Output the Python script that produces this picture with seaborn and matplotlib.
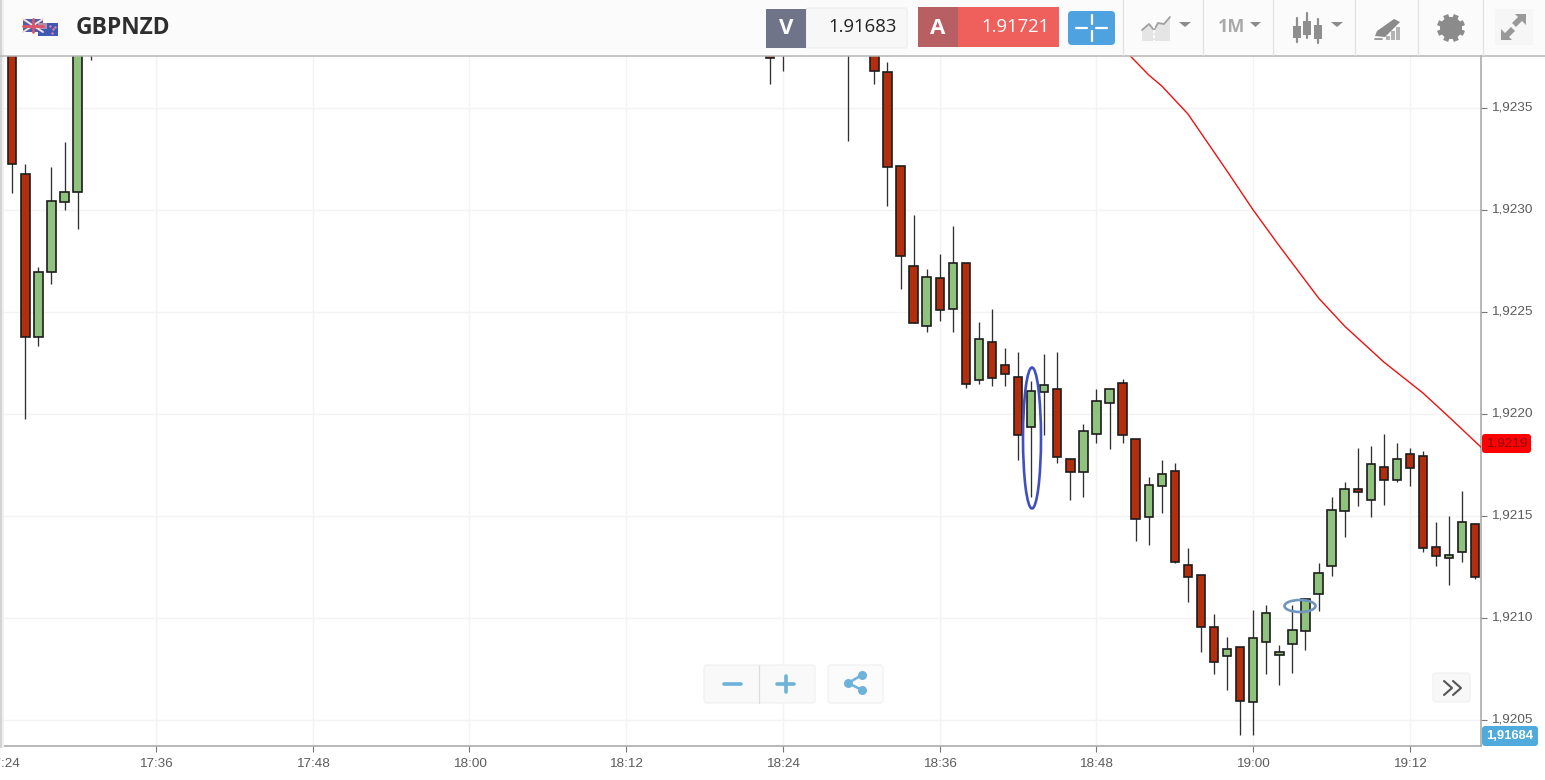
import matplotlib
matplotlib.use("Agg")
import matplotlib.pyplot as plt
from matplotlib.patches import Rectangle, FancyBboxPatch, Ellipse, Polygon, Circle
from matplotlib.transforms import ScaledTranslation
import seaborn as sns
import pandas as pd
import numpy as np

# one minute candles, the ones off the top of the chart are rough guesses
candle_times = ["17:24", "17:25", "17:26", "17:27", "17:28", "17:29", "17:30", "17:31",
                "18:23", "18:24", "18:29", "18:31",
                "18:32", "18:33", "18:34", "18:35", "18:36", "18:37", "18:38", "18:39",
                "18:40", "18:41", "18:42", "18:43", "18:44", "18:45", "18:46", "18:47",
                "18:48", "18:49", "18:50", "18:51", "18:52", "18:53", "18:54", "18:55",
                "18:56", "18:57", "18:58", "18:59", "19:00", "19:01", "19:02", "19:03",
                "19:04", "19:05", "19:06", "19:07", "19:08", "19:09", "19:10", "19:11",
                "19:12", "19:13", "19:14", "19:15", "19:16", "19:17"]
opens = [1.923931, 1.923882, 1.923176, 1.922377, 1.922696, 1.923039, 1.923088, 1.923809,
         1.923882, 1.923809, 1.923931, 1.923882,
         1.923676, 1.923216, 1.922726, 1.922431, 1.922667, 1.922515, 1.922740, 1.922167,
         1.922353, 1.922240, 1.922181, 1.921936, 1.922108, 1.922123, 1.921779, 1.921716,
         1.921902, 1.922054, 1.922152, 1.921877, 1.921495, 1.921647, 1.921721, 1.921260,
         1.921211, 1.920956, 1.920814, 1.920858, 1.920588, 1.920882, 1.920819, 1.920873,
         1.920936, 1.921118, 1.921255, 1.921525, 1.921632, 1.921578, 1.921740, 1.921676,
         1.921804, 1.921794, 1.921348, 1.921294, 1.921324, 1.921461]
highs = [1.923980, 1.923931, 1.923225, 1.922721, 1.923211, 1.923333, 1.923931, 1.923980,
         1.923931, 1.923980, 1.923980, 1.923931,
         1.923726, 1.923216, 1.922976, 1.922711, 1.922784, 1.922922, 1.922740, 1.922451,
         1.922515, 1.922324, 1.922304, 1.922162, 1.922294, 1.922304, 1.921779, 1.921951,
         1.922123, 1.922127, 1.922172, 1.921877, 1.921691, 1.921775, 1.921760, 1.921343,
         1.921211, 1.921020, 1.920907, 1.920858, 1.921039, 1.921064, 1.920868, 1.921064,
         1.921093, 1.921270, 1.921593, 1.921667, 1.921833, 1.921843, 1.921902, 1.921858,
         1.921833, 1.921819, 1.921471, 1.921500, 1.921623, 1.921461]
lows = [1.923686, 1.923083, 1.921976, 1.922333, 1.922637, 1.923000, 1.922907, 1.923735,
        1.923618, 1.923681, 1.923338, 1.923618,
        1.923020, 1.922613, 1.922446, 1.922402, 1.922456, 1.922402, 1.922127, 1.922147,
        1.922137, 1.922137, 1.921775, 1.921593, 1.921897, 1.921760, 1.921578, 1.921593,
        1.921858, 1.921828, 1.921858, 1.921377, 1.921358, 1.921515, 1.921270, 1.921078,
        1.920833, 1.920725, 1.920647, 1.920426, 1.920426, 1.920725, 1.920672, 1.920730,
        1.920843, 1.921034, 1.921206, 1.921397, 1.921549, 1.921495, 1.921554, 1.921667,
        1.921647, 1.921324, 1.921255, 1.921162, 1.921275, 1.921191]
closes = [1.923809, 1.923225, 1.922377, 1.922696, 1.923044, 1.923088, 1.923882, 1.923931,
          1.923745, 1.923931, 1.923809, 1.923681,
          1.923211, 1.922775, 1.922446, 1.922672, 1.922510, 1.922740, 1.922147, 1.922368,
          1.922176, 1.922196, 1.921897, 1.922113, 1.922142, 1.921789, 1.921716, 1.921917,
          1.922064, 1.922123, 1.921897, 1.921485, 1.921652, 1.921706, 1.921275, 1.921201,
          1.920956, 1.920784, 1.920848, 1.920593, 1.920902, 1.921025, 1.920833, 1.920941,
          1.921093, 1.921221, 1.921529, 1.921632, 1.921618, 1.921755, 1.921676, 1.921779,
          1.921735, 1.921343, 1.921304, 1.921309, 1.921471, 1.921201]

# red moving average
ma_times = ["18:50", "18:52", "18:53", "18:55", "18:58", "19:00", "19:02", "19:05",
            "19:07", "19:10", "19:13", "19:15", "19:18"]
ma_values = [1.923794, 1.923662, 1.923608, 1.923471, 1.923191, 1.923000, 1.922824,
             1.922569, 1.922431, 1.922255, 1.922103, 1.921985, 1.921804]

x_labels = ["17:24", "17:36", "17:48", "18:00", "18:12", "18:24", "18:36", "18:48", "19:00", "19:12"]
y_values = [1.9205, 1.9210, 1.9215, 1.9220, 1.9225, 1.9230, 1.9235]

symbol = "GBPNZD"
bid_price = "1.91683"
ask_price = "1.91721"
last_price = "1,9219"
ref_price = "1,91684"

RED = "#b32e0c"
GREEN = "#8fc27d"
EDGE = "#1d1d1d"
GREY = "#8b8b8b"
BLUE = "#6db2d9"


def to_minutes(t):
    h, m = t.split(":")
    return int(h) * 60 + int(m)


sns.set_style("white")
plt.rcParams["font.family"] = ["Liberation Sans", "DejaVu Sans"]

candles = pd.DataFrame({"minute": [to_minutes(t) for t in candle_times], "open": opens,
                        "high": highs, "low": lows, "close": closes})
candles["bottom"] = candles[["open", "close"]].min(axis=1)
candles["height"] = (candles["close"] - candles["open"]).abs()
rising = candles[candles["close"] >= candles["open"]]
falling = candles[candles["close"] < candles["open"]]
wicks = candles.melt(id_vars="minute", value_vars=["high", "low"], value_name="price")
ma = pd.DataFrame({"minute": [to_minutes(t) for t in ma_times], "price": ma_values})

fig = plt.figure(figsize=(15.45, 7.8), dpi=100)
ax = fig.add_axes([-0.75 / 1545, 34 / 780, 1481.75 / 1545, 690 / 780])

sns.lineplot(data=wicks, x="minute", y="price", units="minute", estimator=None, color="#303030",
             linewidth=0.95, solid_capstyle="butt", ax=ax, zorder=2)
for part, colour in [(rising, GREEN), (falling, RED)]:
    sns.barplot(data=part, x="minute", y="height", bottom=part["bottom"].values, native_scale=True,
                width=0.64, color=colour, saturation=1, edgecolor=EDGE, linewidth=1.2,
                errorbar=None, ax=ax, zorder=3)
sns.lineplot(data=ma, x="minute", y="price", color="#ee1111", linewidth=1.0, ax=ax, zorder=4)

ax.set_xlim(1044, 1157.44)
ax.set_ylim(1.920373, 1.923755)
ax.set_xticks([to_minutes(t) for t in x_labels])
ax.set_xticklabels(x_labels)
ax.set_yticks(y_values)
ax.set_yticklabels([("%.4f" % v).replace(".", ",") for v in y_values])
ax.yaxis.tick_right()
ax.set_xlabel("")
ax.set_ylabel("")
ax.grid(True, color="#f3f3f3", linewidth=1.0)
ax.set_axisbelow(True)
ax.tick_params(axis="both", length=4.3, width=0.8, color="#777777", labelcolor="#5c5c5c",
               labelsize=9.7, pad=3, bottom=True, right=True)
ax.tick_params(axis="x", pad=4.5)
for side in ["top", "left"]:
    ax.spines[side].set_visible(False)
for side in ["right", "bottom"]:
    ax.spines[side].set_color("#ababab")
    ax.spines[side].set_linewidth(1.2)

# y labels sit a bit above their ticks in the original, first x label a bit right
for lab in ax.get_yticklabels():
    lab.set_transform(lab.get_transform() + ScaledTranslation(0, 1.5 / 72, fig.dpi_scale_trans))
first = ax.get_xticklabels()[0]
first.set_transform(first.get_transform() + ScaledTranslation(2.5 / 72, 0, fig.dpi_scale_trans))

# everything around the chart is drawn on a second axes in pixel units
ui = fig.add_axes([0, 0, 1, 1], zorder=5)
ui.set_xlim(0, 1545)
ui.set_ylim(780, 0)
ui.axis("off")
ui.patch.set_alpha(0)


def box(x0, y0, x1, y1, colour, **kw):
    ui.add_patch(Rectangle((x0, y0), x1 - x0, y1 - y0, facecolor=colour, edgecolor="none", **kw))


def rbox(x0, y0, x1, y1, colour, edge="none", r=3):
    ui.add_patch(FancyBboxPatch((x0 + r, y0 + r), x1 - x0 - 2 * r, y1 - y0 - 2 * r,
                                boxstyle="round,pad=%d" % r, facecolor=colour, edgecolor=edge, linewidth=0.8))


def tri(x0, x1, y0, y1, colour=GREY):
    ui.add_patch(Polygon([(x0, y0), (x1, y0), ((x0 + x1) / 2, y1)], facecolor=colour, edgecolor="none"))


# header
box(0, 0, 1545, 55, "#fbfbfb")
ui.plot([0, 1545], [55.5, 55.5], color="#b5b5b5", lw=1.1)
box(0, 0, 1.5, 748, "#d4d4d4")
box(1.5, 0, 3.5, 748, "#efefef")
for x in [1123, 1203, 1273, 1355, 1418, 1483]:
    ui.plot([x, x], [0, 55], color="#e3e3e3", lw=0.9)

# flags
box(23, 19, 43, 32, "#4f5ea6")
ui.plot([23, 43], [19, 32], color="#f4dfe2", lw=1.4)
ui.plot([23, 43], [32, 19], color="#f4dfe2", lw=1.4)
ui.plot([33, 33], [19, 32], color="#d9556a", lw=2)
ui.plot([23, 43], [25.5, 25.5], color="#d9556a", lw=2)
box(38, 23, 58, 36, "#3f58b4")
box(38, 23, 47, 29, "#b58aa8")
ui.scatter([50, 53, 55, 52], [26, 29, 27, 33], s=3, color="#e88a9a", linewidths=0)
ui.text(76, 28.5, symbol, fontsize=16.4, fontweight="bold", family="Open Sans", color="#2e2e2e", va="center")

# bid and ask
rbox(806, 8, 907, 48, "#f7f7f7", "#eeeeee", 2)
box(766, 9, 806, 48, "#6f7488")
ui.text(786, 28, "V", color="white", fontsize=16, fontweight="bold", family="Open Sans", ha="center", va="center")
ui.text(897, 27, bid_price, color="#222222", fontsize=13.3, family="Open Sans", ha="right", va="center")
box(958, 7, 1059, 47, "#ef5f5b")
box(918, 7, 958, 47, "#b85f64")
ui.text(938, 28, "A", color="white", fontsize=16, fontweight="bold", family="Open Sans", ha="center", va="center")
ui.text(1050, 27, ask_price, color="white", fontsize=13.3, family="Open Sans", ha="right", va="center")
rbox(1068, 11, 1115, 45, "#4ea2e0", r=4)
for seg in [([1076, 1087], [27.5, 27.5]), ([1096, 1107], [27.5, 27.5]), ([1091.5, 1091.5], [15, 24]), ([1091.5, 1091.5], [31, 41])]:
    ui.plot(seg[0], seg[1], color="white", lw=1.6)

# chart type icon
ui.add_patch(Polygon([(1142, 41), (1142, 30), (1149, 24), (1154, 30), (1158, 23), (1164, 24),
                      (1170, 18), (1170, 41)], facecolor="#e5e5e5", edgecolor="none"))
ui.plot([1142, 1149, 1154, 1158, 1164, 1170], [30, 24, 30, 23, 24, 17], color="#a0a0a0", lw=1.3)
ui.plot([1154, 1154], [15, 42], color="white", lw=1.2, ls=(0, (2, 1)))
tri(1179, 1191, 22, 27)

ui.text(1218, 27.5, "1M", color="#a9a9a9", fontsize=13, fontweight="bold", family="Open Sans", va="center")
tri(1250, 1261, 22, 27)

# candle icon
for cx, y0, y1, b0, b1 in [(1297, 18, 42, 26, 38), (1307, 13, 38, 21, 35), (1318, 19, 43, 25, 39)]:
    ui.plot([cx, cx], [y0, y1], color="#8e8e8e", lw=1.6)
    box(cx - 4, b0, cx + 4, b1, "#8e8e8e")
tri(1331, 1343, 22, 27)

# drawing tools icon
ui.add_patch(Polygon([(1375, 36), (1377, 31), (1394, 19), (1400, 22), (1385, 37)], facecolor=GREY, edgecolor="none"))
for x, y in [(1386, 36), (1391, 31), (1396, 27)]:
    box(x, y, x + 4, 40, "#b3b3b3")
ui.plot([1375, 1382], [38.5, 38.5], color=GREY, lw=1.2)

# gear
gx, gy = 1451, 28
for a in np.arange(0, 360, 45):
    t = np.radians(a + 22.5)
    ui.plot([gx, gx + 14 * np.cos(t)], [gy, gy + 14 * np.sin(t)], color=GREY, lw=3.8, solid_capstyle="butt")
ui.add_patch(Circle((gx, gy), 11, facecolor=GREY, edgecolor="none"))
ui.add_patch(Circle((gx, gy), 4.6, facecolor="#fbfbfb", edgecolor="none"))

# expand
box(1495, 9, 1533, 45, "#f6f6f6")
ui.add_patch(Polygon([(1526, 14), (1526, 25), (1522, 21), (1516, 27), (1512, 23), (1518, 17), (1515, 14)],
                     facecolor="#999999", edgecolor="none"))
ui.add_patch(Polygon([(1501, 40), (1501, 29), (1505, 33), (1511, 27), (1515, 31), (1509, 37), (1512, 40)],
                     facecolor="#999999", edgecolor="none"))

# hand drawn ellipses on the chart
ui.add_patch(Ellipse((1032, 438), 18, 141, facecolor="none", edgecolor="#4050bf", linewidth=1.9))
ui.add_patch(Ellipse((1300, 606), 31, 12, facecolor="none", edgecolor="#7095bf", linewidth=1.9))

# price labels on the right
rbox(1482, 434, 1531, 453, "#ff0000", r=3)
ui.text(1506.5, 443.5, last_price, color="#8a0a0a", fontsize=9.7, ha="center", va="center")
rbox(1482, 726, 1538, 746, "#4fabdc", r=3)
ui.text(1510, 736, ref_price, color="white", fontsize=9.4, fontweight="bold", ha="center", va="center")

# zoom and share buttons
rbox(704, 665, 815, 703, "#f9f9f9", "#f0f0f0", 3)
ui.plot([759, 759], [665, 703], color="#dddddd", lw=0.9)
ui.plot([724, 741], [684, 684], color=BLUE, lw=2.6)
ui.plot([777, 794], [684, 684], color=BLUE, lw=2.6)
ui.plot([785.5, 785.5], [676, 692], color=BLUE, lw=2.6)
rbox(828, 665, 883, 703, "#fbfbfb", "#f0f0f0", 3)
ui.plot([862, 848, 862], [675, 683, 690], color=BLUE, lw=1.8)
ui.scatter([862, 848, 862], [675, 683, 690], s=42, color=BLUE, linewidths=0)

rbox(1433, 673, 1470, 702, "#f8f8f8", "#f0f0f0", 3)
ui.plot([1444, 1452, 1444], [681, 688, 695], color="#555555", lw=1.5)
ui.plot([1453, 1461, 1453], [681, 688, 695], color="#555555", lw=1.5)

fig.savefig("out.png", dpi=100)
